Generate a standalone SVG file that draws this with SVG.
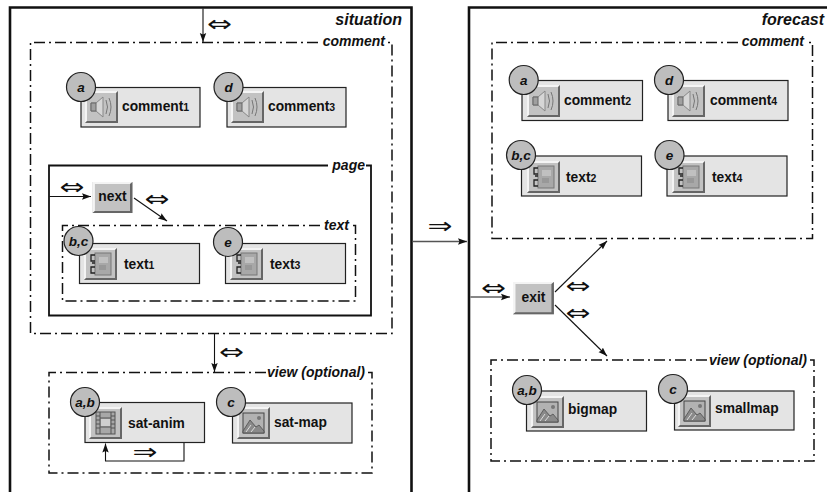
<svg xmlns="http://www.w3.org/2000/svg" width="827" height="492" viewBox="0 0 827 492">
<style>
text{font-family:"Liberation Sans",Arial,sans-serif;fill:#111}
.t{font-size:13.8px;font-weight:700}
.s{font-size:10.5px;font-weight:700}
.c{font-size:13.5px;font-weight:700;font-style:italic;text-anchor:middle}
.l{font-size:14px;font-weight:700;font-style:italic;text-anchor:end}
.h{font-size:16px;font-weight:700;font-style:italic;text-anchor:end}
.o{font-family:"DejaVu Sans",sans-serif;font-size:21px;text-anchor:middle}
.frame{fill:none;stroke:#111;stroke-width:2.6}
.solid{fill:none;stroke:#111;stroke-width:1.8}
.dash{fill:none;stroke:#111;stroke-width:1.5;stroke-dasharray:11 4 2 4}
.node{fill:#e4e4e4;stroke:#222;stroke-width:1.2}
.bubble{fill:#bdbdbd;stroke:#222;stroke-width:1.2}
.wire{fill:none;stroke:#111;stroke-width:1.1;marker-end:url(#arrow)}
.btn{fill:#c2c2c2}
.hi{fill:#f4f4f4}
.lo{fill:#666}
.g{fill:none;stroke:#777;stroke-width:1}
</style>
<defs>
<marker id="arrow" markerUnits="userSpaceOnUse" markerWidth="10" markerHeight="8" refX="9" refY="4" orient="auto"><path d="M0 .8L9 4L0 7.2L1.500 4Z" fill="#111"/></marker>
<g id="bevel">
<rect width="33" height="32" class="btn"/>
<path class="hi" d="M0 0H33L31 2H2V30L0 32Z"/>
<path class="lo" d="M33 0V32H0L2 30H31V2Z"/>
</g>
<g id="ic-sound"><use href="#bevel"/>
<path d="M6 12H11L18 6V26L11 20H6Z" fill="#d6d6d6" stroke="#888"/><path d="M6 12H11V20H6Z" fill="#a0a0a0" stroke="#666"/>
<path class="g" d="M21 9Q24 16 21 23M24 7Q28 16 24 25"/></g>
<g id="ic-book"><use href="#bevel"/>
<rect x="11" y="5" width="16" height="22" fill="#a8a8a8" stroke="#777"/><rect x="15" y="9" width="9" height="6" fill="#c0c0c0"/><rect x="15" y="17" width="7" height="5" fill="#989898"/>
<path d="M11 7H7V13H11M11 15H8M11 19H7V25H11" fill="none" stroke="#222" stroke-width="1.300"/></g>
<g id="ic-film"><use href="#bevel"/>
<rect x="7" y="5" width="19" height="22" fill="#a8a8a8" stroke="#555"/><path d="M11 5V27M22 5V27" stroke="#555" fill="none"/><path d="M7 9H11M7 13H11M7 17H11M7 21H11M22 9H26M22 13H26M22 17H26M22 21H26M11 11H22M11 20H22" stroke="#555" fill="none"/><rect x="12" y="12" width="9" height="7" fill="#cfcfcf"/></g>
<g id="ic-map"><use href="#bevel"/>
<rect x="6" y="6" width="21" height="20" fill="#b2b2b2" stroke="#444"/><circle cx="22" cy="11" r="2" fill="#777"/>
<path d="M6 24L13 13L19 20L22 18L27 24V26H6Z" fill="#8a8a8a" stroke="#444" stroke-width=".7"/><path class="g" d="M9 25L14 18M14 25L18 20" style="stroke:#ddd"/></g>
</defs>

<g id="frames">
<path class="frame" d="M411.500 492V7.500H10V492"/>
<path class="frame" d="M827 7.500H469V492"/>
<text class="h" x="402" y="25">situation</text>
<text class="h" x="824" y="25">forecast</text>
</g>

<g id="situation-comment"><path class="dash" d="M318 42.500H30.500V333.500H392V42.500H388"/><text class="l" x="385" y="46">comment</text></g>
<g id="page"><path class="solid" d="M328 165.500H49V315.500H371V165.500H366"/><text class="l" x="365" y="170">page</text></g>
<g id="situation-text"><path class="dash" d="M320 225.500H62.500V301H355.500V225.500H352"/><text class="l" x="349" y="230">text</text></g>
<g id="situation-view"><path class="dash" d="M266 372.500H49V473H372V372.500H368"/><text class="l" x="365" y="377">view (optional)</text></g>
<g id="forecast-comment"><path class="dash" d="M738 42.500H492V238.500H812.500V42.500H807"/><text class="l" x="804" y="46">comment</text></g>
<g id="forecast-view"><path class="dash" d="M707 360H491V461H814V360H810"/><text class="l" x="807" y="365">view (optional)</text></g>

<g id="connectors">
<path class="wire" d="M203 8.500V42"/>
<path class="wire" d="M214.500 334V372"/>
<path class="wire" d="M49.500 196.500H91"/>
<path class="wire" d="M134 198L167 221"/>
<path class="wire" d="M184 443V461H105.500V443.500"/>
<path class="wire" d="M412.500 241.500H467" style="stroke-width:1.400;stroke:#555"/>
<path class="wire" d="M470.500 297H510"/>
<path class="wire" d="M555 292L607 241"/>
<path class="wire" d="M555 305L607 356"/>
<text class="o" x="219.500" y="31" textLength="25" lengthAdjust="spacingAndGlyphs">⇔</text>
<text class="o" x="231.500" y="359" textLength="25" lengthAdjust="spacingAndGlyphs">⇔</text>
<text class="o" x="72" y="194" textLength="25" lengthAdjust="spacingAndGlyphs">⇔</text>
<text class="o" x="157" y="206" textLength="25" lengthAdjust="spacingAndGlyphs">⇔</text>
<text class="o" x="145" y="459" textLength="25" lengthAdjust="spacingAndGlyphs">⇒</text>
<text class="o" x="440" y="233" textLength="25" lengthAdjust="spacingAndGlyphs">⇒</text>
<text class="o" x="493.500" y="295" textLength="25" lengthAdjust="spacingAndGlyphs">⇔</text>
<text class="o" x="578" y="293" textLength="25" lengthAdjust="spacingAndGlyphs">⇔</text>
<text class="o" x="578" y="320" textLength="25" lengthAdjust="spacingAndGlyphs">⇔</text>
</g>

<g id="comment1"><rect class="node" x="81" y="87.500" width="119" height="39.500"/><use href="#ic-sound" x="85" y="91"/><circle class="bubble" cx="81" cy="87" r="14.500"/><text class="c" x="81" y="92">a</text><text class="t" x="122" y="111">comment<tspan class="s">1</tspan></text></g>
<g id="comment3"><rect class="node" x="227" y="87.500" width="119" height="39.500"/><use href="#ic-sound" x="231" y="91"/><circle class="bubble" cx="228.500" cy="87" r="14.500"/><text class="c" x="228.500" y="92">d</text><text class="t" x="268" y="111">comment<tspan class="s">3</tspan></text></g>
<g id="next"><use href="#bevel" transform="translate(92.500 182) scale(1.21 .97)"/><text class="t" x="112.500" y="201" text-anchor="middle">next</text></g>
<g id="text1"><rect class="node" x="79.500" y="243.500" width="120" height="40"/><use href="#ic-book" x="84" y="248"/><circle class="bubble" cx="78.500" cy="241" r="14.500"/><text class="c" x="78.500" y="246">b,c</text><text class="t" x="124" y="269">text<tspan class="s">1</tspan></text></g>
<g id="text3"><rect class="node" x="225.500" y="243.500" width="120" height="40"/><use href="#ic-book" x="230" y="248"/><circle class="bubble" cx="228" cy="242" r="14.500"/><text class="c" x="228" y="247">e</text><text class="t" x="270" y="269">text<tspan class="s">3</tspan></text></g>
<g id="sat-anim"><rect class="node" x="85" y="402.500" width="119.500" height="40"/><use href="#ic-film" x="89" y="407"/><circle class="bubble" cx="85" cy="402" r="14.500"/><text class="c" x="85" y="407">a,b</text><text class="t" x="128" y="428">sat-anim</text></g>
<g id="sat-map"><rect class="node" x="232.500" y="403" width="119.500" height="40"/><use href="#ic-map" x="237" y="407"/><circle class="bubble" cx="231" cy="402" r="14.500"/><text class="c" x="231" y="407">c</text><text class="t" x="274" y="427">sat-map</text></g>
<g id="comment2"><rect class="node" x="522" y="80.500" width="120.500" height="40"/><use href="#ic-sound" x="527" y="85"/><circle class="bubble" cx="523.700" cy="80" r="14.500"/><text class="c" x="523.700" y="85">a</text><text class="t" x="564" y="105">comment<tspan class="s">2</tspan></text></g>
<g id="comment4"><rect class="node" x="668" y="80.500" width="120" height="40"/><use href="#ic-sound" x="672" y="85"/><circle class="bubble" cx="669" cy="80" r="14.500"/><text class="c" x="669" y="85">d</text><text class="t" x="710" y="105">comment<tspan class="s">4</tspan></text></g>
<g id="text2"><rect class="node" x="521.500" y="156" width="120" height="40"/><use href="#ic-book" x="527" y="161"/><circle class="bubble" cx="521" cy="155" r="14.500"/><text class="c" x="521" y="160">b,c</text><text class="t" x="566" y="182">text<tspan class="s">2</tspan></text></g>
<g id="text4"><rect class="node" x="667" y="156" width="120" height="40"/><use href="#ic-book" x="672" y="161"/><circle class="bubble" cx="669.500" cy="155" r="14.500"/><text class="c" x="669.500" y="160">e</text><text class="t" x="712" y="182">text<tspan class="s">4</tspan></text></g>
<g id="exit"><use href="#bevel" transform="translate(513 282) scale(1.24 1.01)"/><text class="t" x="533.500" y="302" text-anchor="middle">exit</text></g>
<g id="bigmap"><rect class="node" x="526.500" y="391" width="120" height="40"/><use href="#ic-map" x="531" y="396"/><circle class="bubble" cx="527" cy="390" r="14.500"/><text class="c" x="527" y="395">a,b</text><text class="t" x="568" y="414">bigmap</text></g>
<g id="smallmap"><rect class="node" x="674.500" y="391" width="119.500" height="39"/><use href="#ic-map" x="678" y="395"/><circle class="bubble" cx="673" cy="389" r="14.500"/><text class="c" x="673" y="394">c</text><text class="t" x="715" y="413">smallmap</text></g>
</svg>
